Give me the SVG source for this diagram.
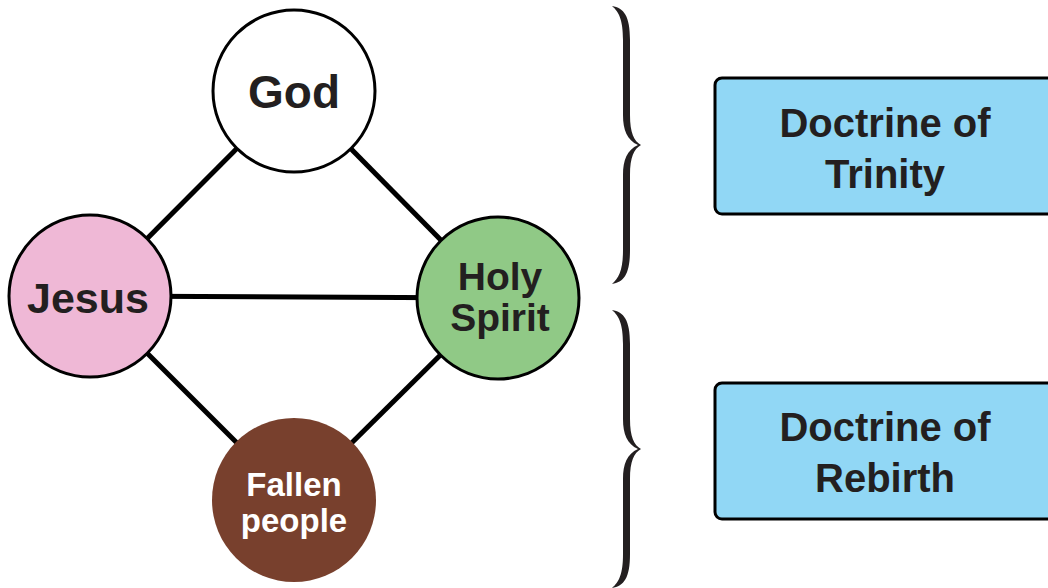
<svg xmlns="http://www.w3.org/2000/svg" width="1048" height="588" viewBox="0 0 1048 588">
<style>
.lbl{font-family:"Liberation Sans",Arial,sans-serif;font-weight:bold;fill:#231f20;text-anchor:middle}
.wt{fill:#ffffff}
.node{stroke:#000;stroke-width:3}
.conn{stroke:#000;stroke-width:5;fill:none}
.box{fill:#91d7f5;stroke:#000;stroke-width:3}
.brace{fill:#231f20}
</style>
<defs>
<path id="brace" d="M612,6 C624,8 630,16 630,40 L630,115 C630,133 634,141 641,145 C634,149 630,157 630,175 L630,250 C630,274 624,282 612,284 C619,278 623,270 623,250 L623,175 C623,160 627,150 638,145 C627,140 623,130 623,115 L623,40 C623,20 619,12 612,6 Z"/>
</defs>
<g id="connectors">
<line class="conn" x1="294" y1="91" x2="90" y2="296"/>
<line class="conn" x1="294" y1="91" x2="498" y2="298"/>
<line class="conn" x1="90" y1="296" x2="498" y2="298"/>
<line class="conn" x1="90" y1="296" x2="294" y2="500"/>
<line class="conn" x1="498" y1="298" x2="294" y2="500"/>
</g>
<g id="god">
<circle class="node" cx="294" cy="91" r="81" fill="#ffffff"/>
<text class="lbl" x="294" y="108" font-size="46">God</text>
</g>
<g id="jesus">
<circle class="node" cx="90" cy="296" r="81" fill="#efb8d6"/>
<text class="lbl" x="88" y="313" font-size="43">Jesus</text>
</g>
<g id="holy-spirit">
<circle class="node" cx="498" cy="298" r="81" fill="#90c986"/>
<text class="lbl" x="500" y="290" font-size="39">Holy</text>
<text class="lbl" x="500" y="331" font-size="39">Spirit</text>
</g>
<g id="fallen-people">
<circle cx="294" cy="500" r="82" fill="#78402d"/>
<text class="lbl wt" x="294" y="496" font-size="33">Fallen</text>
<text class="lbl wt" x="294" y="532" font-size="33">people</text>
</g>
<g id="brace-trinity">
<use href="#brace" class="brace"/>
</g>
<g id="brace-rebirth">
<use href="#brace" class="brace" transform="translate(0,304)"/>
</g>
<g id="doctrine-trinity">
<rect class="box" x="715" y="78" width="345" height="136" rx="7"/>
<text class="lbl" x="885" y="137" font-size="40">Doctrine of</text>
<text class="lbl" x="885" y="188" font-size="40">Trinity</text>
</g>
<g id="doctrine-rebirth">
<rect class="box" x="715" y="383" width="345" height="136" rx="7"/>
<text class="lbl" x="885" y="441" font-size="40">Doctrine of</text>
<text class="lbl" x="885" y="492" font-size="40">Rebirth</text>
</g>
</svg>
